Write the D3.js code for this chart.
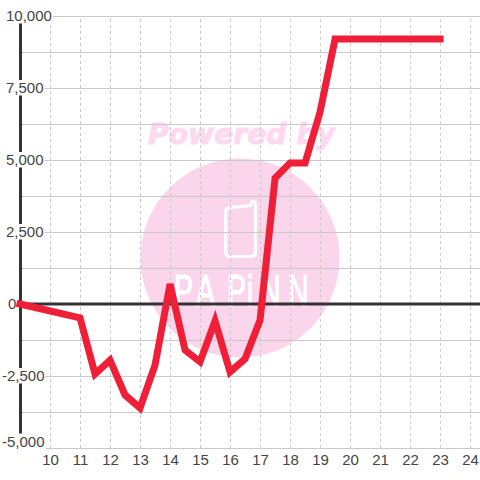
<!DOCTYPE html>
<html>
<head>
<meta charset="utf-8">
<script src="https://cdn.jsdelivr.net/npm/d3@7"></script>
<style>
  html, body { margin: 0; padding: 0; background: #fff; }
  svg { display: block; }
  text { font-family: "Liberation Sans", sans-serif; }
</style>
</head>
<body>
<script>
const hours = [9, 11, 11.5, 12, 12.5, 13, 13.5, 14, 14.5, 15, 15.5, 16, 16.5, 17, 17.5, 18, 18.5, 19, 19.5, 23];
const values = [0, -480, -2430, -1950, -3160, -3610, -2120, 690, -1600, -2010, -590, -2360, -1910, -560, 4370, 4900, 4900, 6670, 9200, 9200];
const yTicks = [-5000, -3750, -2500, -1250, 0, 1250, 2500, 3750, 5000, 6250, 7500, 8750, 10000];
const yLabels = [-5000, -2500, 0, 2500, 5000, 7500, 10000];
const xTicks = [10, 11, 12, 13, 14, 15, 16, 17, 18, 19, 20, 21, 22, 23, 24];

const width = 480, height = 480;
const x = d3.scaleLinear().domain([9, 24.33]).range([20, 480]);
const y = d3.scaleLinear().domain([-5000, 10000]).range([448, 16]);

const svg = d3.select('body').append('svg')
    .attr('width', width)
    .attr('height', height);

// watermark sits under the grid
const mark = svg.append('g');
mark.append('circle')
    .attr('cx', 240).attr('cy', 258).attr('r', 99.5)
    .attr('fill', '#fbd5ec');
mark.append('text')
    .attr('x', 241.5).attr('y', 144)
    .attr('text-anchor', 'middle')
    .attr('font-size', 28)
    .attr('font-weight', 'bold')
    .attr('font-style', 'italic')
    .attr('fill', '#fdd9ef')
    .attr('stroke', '#fdd9ef')
    .attr('stroke-width', 1)
    .style('font-family', '"DejaVu Sans", sans-serif')
    .attr('textLength', 187)
    .attr('lengthAdjust', 'spacingAndGlyphs')
    .text('Powered by');
// phone outline of the logo
mark.append('path')
    .attr('d', 'M231,207.5 L251,205.5 L251,203 A2.5,2.5 0 0 1 255.5,203 L255.5,252 Q255.5,256.5 251,256.5 L230,256.5 Q225.7,256.5 225.7,252 L225.7,212 Q225.7,207.5 231,207.5 Z')
    .attr('fill', 'none').attr('stroke', '#fff').attr('stroke-width', 3.2);
// logo word, squeezed and spread out letter by letter
const logoX = [174, 196, 227, 247, 260, 288];
mark.append('text')
    .attr('transform', 'scale(0.65,1)')
    .attr('x', logoX.map(d => d / 0.65).join(' '))
    .attr('y', 306)
    .attr('font-size', 44)
    .attr('fill', '#fff')
    .attr('stroke', '#fff')
    .attr('stroke-width', 1.2)
    .text('PAPiNN');

// horizontal grid
svg.append('g')
    .attr('transform', 'translate(20,0)')
    .call(d3.axisLeft(y).tickValues(yTicks).tickSize(-460).tickFormat(''))
    .call(g => g.select('.domain').remove())
    .selectAll('line').attr('stroke', '#c9c9c9');

// vertical dotted grid
svg.append('g')
    .attr('transform', 'translate(0,448)')
    .call(d3.axisBottom(x).tickValues(xTicks).tickSize(-432).tickSizeOuter(0).tickPadding(6).tickFormat(d3.format('d')))
    .call(g => g.select('.domain').remove())
    .call(g => g.selectAll('line').attr('stroke', '#c9c9c9').attr('stroke-dasharray', '3,3'))
    .call(g => g.selectAll('text')
        .attr('fill', '#444')
        .attr('font-size', 15)
        .style('font-family', '"Liberation Sans", sans-serif'));

// axis lines
svg.append('line')
    .attr('x1', x(9) + 0.5).attr('x2', x(9) + 0.5)
    .attr('y1', y(10000)).attr('y2', y(-5000))
    .attr('stroke', '#333').attr('stroke-width', 3);
svg.append('line')
    .attr('x1', x(9)).attr('x2', 480)
    .attr('y1', y(0)).attr('y2', y(0))
    .attr('stroke', '#333').attr('stroke-width', 3);

// y labels with a white plate behind them
const labelX = d => d < 0 ? 2 : (d === 0 ? 8 : 6);
const labelY = d => d === -5000 ? y(d) - 6.5 : y(d);
const label = svg.append('g').selectAll('g')
    .data(yLabels)
    .enter().append('g')
    .attr('transform', d => `translate(${labelX(d)},${labelY(d)})`);
label.append('text')
    .attr('dy', '0.35em')
    .attr('font-size', 15)
    .attr('fill', '#444')
    .text(d => d3.format(',')(d).replace('−', '-'));
label.insert('rect', 'text')
    .each(function () {
        const w = this.parentNode.querySelector('text').getComputedTextLength();
        d3.select(this)
            .attr('x', -2).attr('y', -8)
            .attr('width', w + 3).attr('height', 15.5)
            .attr('fill', '#fff');
    });

// series
const line = d3.line().x((d, i) => x(hours[i])).y(d => y(d));
svg.append('path')
    .attr('d', line(values))
    .attr('fill', 'none')
    .attr('stroke', '#f01f38')
    .attr('stroke-width', 7)
    .attr('stroke-linejoin', 'miter')
    .attr('stroke-linecap', 'square');
</script>
</body>
</html>
